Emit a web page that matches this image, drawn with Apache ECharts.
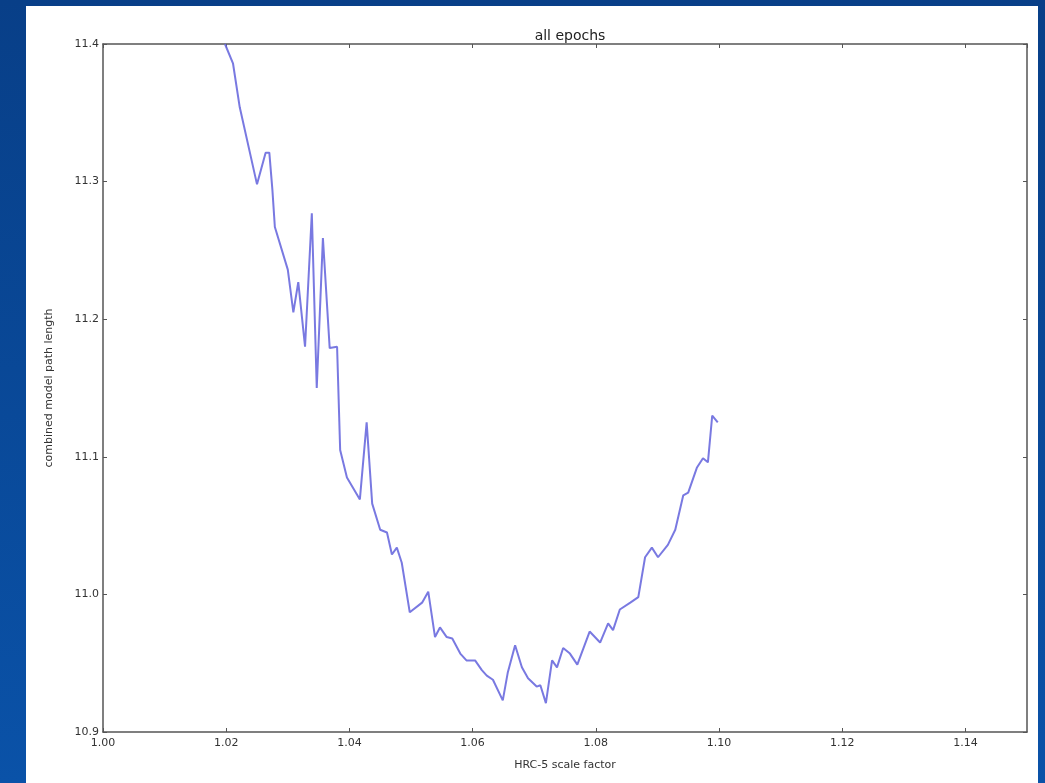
<!DOCTYPE html>
<html>
<head>
<meta charset="utf-8">
<script src="https://cdn.jsdelivr.net/npm/echarts@6/dist/echarts.min.js"></script>
<style>
  html, body { margin: 0; padding: 0; width: 1045px; height: 783px; overflow: hidden; }
  body { background: linear-gradient(180deg, #083f88 0%, #0a52a8 100%); position: relative; }
  #panel { position: absolute; left: 26px; top: 6px; width: 1012px; height: 777px; background: #ffffff; }
  #chart { position: absolute; left: 0; top: 0; width: 1045px; height: 783px; }
</style>
</head>
<body>
<div id="panel"></div>
<div id="chart"></div>
<script>
const titleText = 'all epochs';
const xLabel = 'HRC-5 scale factor';
const yLabel = 'combined model path length';

const scaleFactor = [
  1.0198, 1.0211, 1.0222, 1.0250, 1.0264, 1.0270, 1.0275, 1.0279, 1.0300, 1.0309,
  1.0317, 1.0328, 1.0339, 1.0347, 1.0357, 1.0368, 1.0380, 1.0385, 1.0396, 1.0417,
  1.0428, 1.0437, 1.0450, 1.0461, 1.0469, 1.0477, 1.0485, 1.0498, 1.0518, 1.0528,
  1.0539, 1.0547, 1.0558, 1.0567, 1.0580, 1.0590, 1.0604, 1.0615, 1.0623, 1.0633,
  1.0649, 1.0657, 1.0669, 1.0680, 1.0690, 1.0704, 1.0710, 1.0719, 1.0729, 1.0737,
  1.0747, 1.0758, 1.0770, 1.0790, 1.0807, 1.0820, 1.0828, 1.0839, 1.0856, 1.0869,
  1.0880, 1.0891, 1.0901, 1.0917, 1.0929, 1.0942, 1.0950, 1.0964, 1.0974, 1.0982,
  1.0989, 1.0998
];
const pathLength = [
  11.400, 11.386, 11.354, 11.298, 11.321, 11.321, 11.294, 11.267, 11.236, 11.205,
  11.227, 11.180, 11.277, 11.150, 11.259, 11.179, 11.180, 11.105, 11.085, 11.069,
  11.125, 11.066, 11.047, 11.045, 11.029, 11.034, 11.023, 10.987, 10.994, 11.002,
  10.969, 10.976, 10.969, 10.968, 10.957, 10.952, 10.952, 10.945, 10.941, 10.938,
  10.923, 10.943, 10.963, 10.947, 10.939, 10.933, 10.934, 10.921, 10.952, 10.947,
  10.961, 10.957, 10.949, 10.973, 10.965, 10.979, 10.974, 10.989, 10.994, 10.998,
  11.027, 11.034, 11.027, 11.036, 11.047, 11.072, 11.074, 11.092, 11.099, 11.096,
  11.130, 11.125
];
const xTicks = { min: 1.00, max: 1.15, interval: 0.02 };
const yTicks = { min: 10.9, max: 11.4, interval: 0.1 };

const seriesData = scaleFactor.map((x, i) => [x, pathLength[i]]);

const frameColor = '#555555';
const labelStyle = { color: '#333333', fontFamily: 'DejaVu Sans', fontSize: 11 };

const chart = echarts.init(document.getElementById('chart'), null, { renderer: 'canvas' });
chart.setOption({
  backgroundColor: 'transparent',
  animation: false,
  title: {
    text: titleText, left: 565, top: 24, textAlign: 'center',
    textStyle: { fontFamily: 'DejaVu Sans', fontSize: 14, fontWeight: 'normal', color: '#222' }
  },
  grid: { left: 103, right: 18, top: 44, bottom: 51, containLabel: false },
  xAxis: [
    {
      type: 'value', min: xTicks.min, max: xTicks.max, interval: xTicks.interval,
      name: xLabel, nameLocation: 'middle', nameGap: 28,
      nameTextStyle: { fontFamily: 'DejaVu Sans', fontSize: 11, color: '#333' },
      axisLine: { show: true, lineStyle: { color: frameColor, width: 1.5 } },
      axisTick: { show: true, inside: true, length: 4, lineStyle: { color: frameColor } },
      axisLabel: Object.assign({ margin: 6, showMaxLabel: false,
        formatter: v => v.toFixed(2) }, labelStyle),
      splitLine: { show: false }
    },
    {
      type: 'value', position: 'top', min: xTicks.min, max: xTicks.max, interval: xTicks.interval,
      axisLine: { show: true, lineStyle: { color: frameColor, width: 1.5 } },
      axisTick: { show: true, inside: true, length: 4, lineStyle: { color: frameColor } },
      axisLabel: { show: false }, splitLine: { show: false }
    }
  ],
  yAxis: [
    {
      type: 'value', min: yTicks.min, max: yTicks.max, interval: yTicks.interval,
      name: yLabel, nameLocation: 'middle', nameGap: 48, nameRotate: 90,
      nameTextStyle: { fontFamily: 'DejaVu Sans', fontSize: 11, color: '#333' },
      axisLine: { show: true, lineStyle: { color: frameColor, width: 1.5 } },
      axisTick: { show: true, inside: true, length: 4, lineStyle: { color: frameColor } },
      axisLabel: Object.assign({ margin: 4, formatter: v => v.toFixed(1) }, labelStyle),
      splitLine: { show: false }
    },
    {
      type: 'value', position: 'right', min: yTicks.min, max: yTicks.max, interval: yTicks.interval,
      axisLine: { show: true, lineStyle: { color: frameColor, width: 1.5 } },
      axisTick: { show: true, inside: true, length: 4, lineStyle: { color: frameColor } },
      axisLabel: { show: false }, splitLine: { show: false }
    }
  ],
  series: [{
    type: 'line', data: seriesData, xAxisIndex: 0, yAxisIndex: 0,
    showSymbol: false, smooth: false,
    lineStyle: { color: '#6a6ade', width: 2, opacity: 0.9 }
  }]
});
</script>
</body>
</html>
